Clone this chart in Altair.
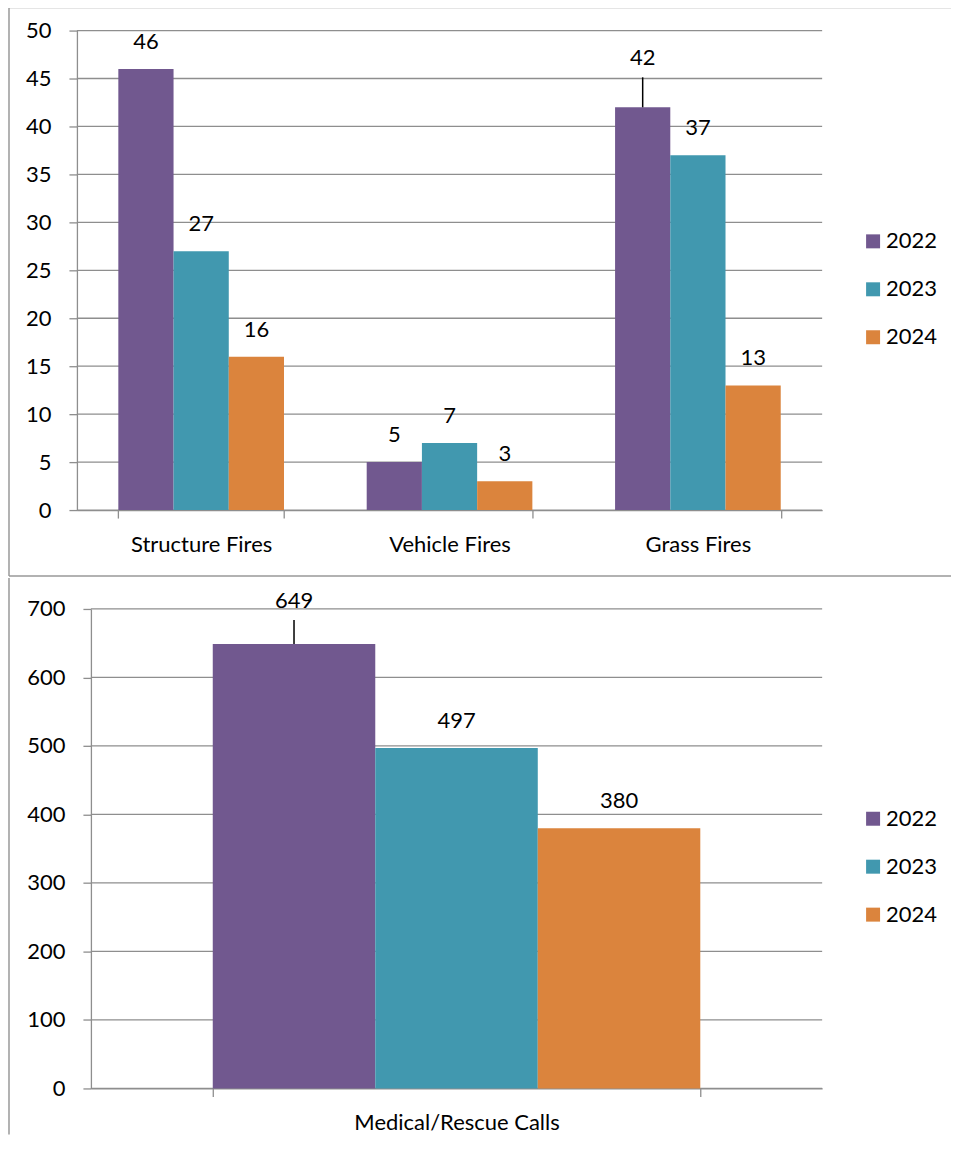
import altair as alt
import pandas as pd

years = ["2022", "2023", "2024"]
colors = ["#71588F", "#4198AF", "#DB843D"]

fire_types = ["Structure Fires", "Vehicle Fires", "Grass Fires"]
fires_2022 = [46, 5, 42]
fires_2023 = [27, 7, 37]
fires_2024 = [16, 3, 13]

medical_types = ["Medical/Rescue Calls"]
medical_2022 = [649]
medical_2023 = [497]
medical_2024 = [380]

FONT = "Lato"
FS = 22
GRID = "#8E8E8E"
FRAME = "#999999"


def long_df(cats, s22, s23, s24):
    rows = []
    for i, c in enumerate(cats):
        for y, s in zip(years, [s22, s23, s24]):
            rows.append({"category": c, "year": y, "value": s[i]})
    return pd.DataFrame(rows)


fires = long_df(fire_types, fires_2022, fires_2023, fires_2024)
medical = long_df(medical_types, medical_2022, medical_2023, medical_2024)


def panel(df, cats, ymax, ystep, w, h, shift, frame, raised, leg_x, leg_y):
    # shift: how far the plot's left edge lies left of the cell origin
    base = alt.Chart(df)
    ticks = list(range(0, ymax + 1, ystep))
    x = alt.X("category:N", sort=cats, title=None,
              scale=alt.Scale(paddingInner=0.333, paddingOuter=0.1667,
                              range=[-shift, w]),
              axis=alt.Axis(labelAngle=0, tickBand="extent", tickSize=8,
                            labelPadding=16, labelFontSize=FS, labelColor="#000",
                            labelFont=FONT, labelLimit=0, domainColor=GRID,
                            tickColor=GRID, domainWidth=1.3, tickWidth=1.3,
                            grid=False))
    y = alt.Y("value:Q", title=None,
              scale=alt.Scale(domain=[0, ymax], nice=False),
              axis=alt.Axis(values=ticks, tickSize=8, offset=shift,
                            labelPadding=18, labelFontSize=FS, labelColor="#000",
                            labelFont=FONT, domainColor=GRID, tickColor=GRID,
                            grid=False, domainWidth=1.3, tickWidth=1.3))
    xo = alt.XOffset("year:N", sort=years,
                     scale=alt.Scale(paddingInner=0, paddingOuter=0))
    color = alt.Color("year:N", sort=years,
                      scale=alt.Scale(domain=years, range=colors),
                      legend=alt.Legend(title=None, orient="none",
                                        legendX=leg_x, legendY=leg_y,
                                        symbolType="square", symbolSize=196,
                                        symbolStrokeWidth=0, labelFontSize=FS,
                                        labelFont=FONT, labelColor="#000",
                                        labelOffset=2, rowPadding=26,
                                        padding=0))
    grid = alt.Chart(pd.DataFrame({"value": ticks})).mark_rule(
        color=GRID, strokeWidth=1.3
    ).encode(y=y, x=alt.value(-shift), x2=alt.value(w))
    bars = base.mark_bar(strokeWidth=0).encode(x=x, xOffset=xo, y=y, color=color)

    is_raised = " || ".join(
        f"(datum.category == '{c}' && datum.year == '{yr}')" for c, yr, _, _ in raised
    ) or "false"
    labels = base.transform_filter(f"!({is_raised})").mark_text(
        dy=-27, fontSize=FS, font=FONT, color="#000", baseline="middle"
    ).encode(x=x, xOffset=xo, y=y, text="value:Q")
    layers = [grid, bars, labels]
    for c, yr, lift, lead in raised:
        sel = base.transform_filter(
            f"datum.category == '{c}' && datum.year == '{yr}'")
        layers.append(sel.mark_text(dy=-lift, fontSize=FS, font=FONT,
                                    color="#000", baseline="middle")
                      .encode(x=x, xOffset=xo, y=y, text="value:Q"))
        layers.append(sel.mark_rule(color="#000", strokeWidth=1.5, yOffset=-lead)
                      .encode(x=x, xOffset=xo, y=y, y2="value:Q"))

    one = alt.Chart(pd.DataFrame({"k": [0]}))
    fx, fx_right, fy_top, fy_bot, draw_top, draw_bottom = frame
    layers.append(one.mark_rule(color=FRAME, strokeWidth=1.5).encode(
        x=alt.value(fx), x2=alt.value(fx), y=alt.value(fy_top), y2=alt.value(fy_bot)))
    if draw_top:
        layers.append(one.mark_rule(color=FRAME, strokeWidth=1.5).encode(
            x=alt.value(fx), x2=alt.value(fx_right), y=alt.value(fy_top),
            y2=alt.value(fy_top)))
    if draw_bottom:
        layers.append(one.mark_rule(color=FRAME, strokeWidth=1.5).encode(
            x=alt.value(fx), x2=alt.value(fx_right), y=alt.value(fy_bot),
            y2=alt.value(fy_bot)))
    return alt.layer(*layers).properties(width=w, height=h)


top = panel(fires, fire_types, 50, 5, 732, 480, 14,
            (-82, 861, -23, 546, True, True),
            [("Grass Fires", "2022", 49, 30)], 772, 200)
bottom = panel(medical, medical_types, 700, 100, 732, 480, 0,
               (-82, 861, -31, 526, False, False),
               [("Medical/Rescue Calls", "2022", 43, 24)], 772, 199)

chart = alt.vconcat(top, bottom, spacing=0).resolve_scale(
    x="independent", y="independent", color="independent", xOffset="independent"
).resolve_legend(color="independent").properties(
    padding={"top": -2, "left": 0, "right": 0, "bottom": 0}
).configure(
    font=FONT, view=alt.ViewConfig(strokeWidth=0, stroke="transparent")
)

chart.save("out.html", embed_options={"renderer": "svg", "actions": False})
